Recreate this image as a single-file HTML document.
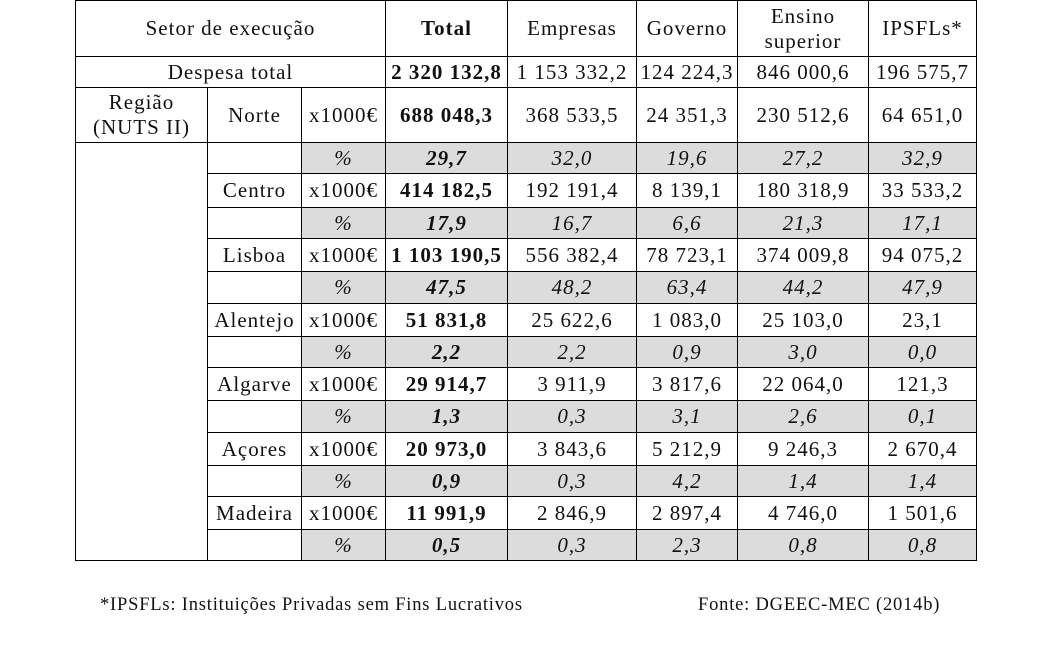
<!DOCTYPE html>
<html><head><meta charset="utf-8"><style>
body{margin:0;width:1052px;height:670px;background:#fff;position:relative;overflow:hidden;font-family:"Liberation Serif",serif;color:#111}
table{position:absolute;left:75px;top:0;border-collapse:collapse;table-layout:fixed;font-size:21px;letter-spacing:1px}
td{border:1px solid #000;text-align:center;padding:0;line-height:25px;white-space:nowrap}
.g{background:#dcdcdc;font-style:italic}
.b{font-weight:bold}
.f{position:absolute;top:595px;font-size:18.5px;letter-spacing:0.8px}
</style></head><body>
<table>
<colgroup><col style="width:132px"><col style="width:94px"><col style="width:84px"><col style="width:122px"><col style="width:129px"><col style="width:101px"><col style="width:131px"><col style="width:108px"></colgroup>
<tr style="height:56px"><td colspan="3">Setor de execução</td><td class="b">Total</td><td>Empresas</td><td>Governo</td><td>Ensino<br>superior</td><td>IPSFLs*</td></tr>
<tr style="height:31px"><td colspan="3">Despesa total</td><td class="b">2 320 132,8</td><td>1 153 332,2</td><td>124 224,3</td><td>846 000,6</td><td>196 575,7</td></tr>
<tr style="height:55px"><td>Região<br>(NUTS II)</td><td>Norte</td><td>x1000€</td><td class="b">688 048,3</td><td>368 533,5</td><td>24 351,3</td><td>230 512,6</td><td>64 651,0</td></tr>
<tr style="height:31px"><td rowspan="13"></td><td></td><td class="g">%</td><td class="g b">29,7</td><td class="g">32,0</td><td class="g">19,6</td><td class="g">27,2</td><td class="g">32,9</td></tr>
<tr style="height:34px"><td>Centro</td><td>x1000€</td><td class="b">414 182,5</td><td>192 191,4</td><td>8 139,1</td><td>180 318,9</td><td>33 533,2</td></tr>
<tr style="height:31px"><td></td><td class="g">%</td><td class="g b">17,9</td><td class="g">16,7</td><td class="g">6,6</td><td class="g">21,3</td><td class="g">17,1</td></tr>
<tr style="height:33px"><td>Lisboa</td><td>x1000€</td><td class="b">1 103 190,5</td><td>556 382,4</td><td>78 723,1</td><td>374 009,8</td><td>94 075,2</td></tr>
<tr style="height:32px"><td></td><td class="g">%</td><td class="g b">47,5</td><td class="g">48,2</td><td class="g">63,4</td><td class="g">44,2</td><td class="g">47,9</td></tr>
<tr style="height:33px"><td>Alentejo</td><td>x1000€</td><td class="b">51 831,8</td><td>25 622,6</td><td>1 083,0</td><td>25 103,0</td><td>23,1</td></tr>
<tr style="height:31px"><td></td><td class="g">%</td><td class="g b">2,2</td><td class="g">2,2</td><td class="g">0,9</td><td class="g">3,0</td><td class="g">0,0</td></tr>
<tr style="height:33px"><td>Algarve</td><td>x1000€</td><td class="b">29 914,7</td><td>3 911,9</td><td>3 817,6</td><td>22 064,0</td><td>121,3</td></tr>
<tr style="height:32px"><td></td><td class="g">%</td><td class="g b">1,3</td><td class="g">0,3</td><td class="g">3,1</td><td class="g">2,6</td><td class="g">0,1</td></tr>
<tr style="height:33px"><td>Açores</td><td>x1000€</td><td class="b">20 973,0</td><td>3 843,6</td><td>5 212,9</td><td>9 246,3</td><td>2 670,4</td></tr>
<tr style="height:31px"><td></td><td class="g">%</td><td class="g b">0,9</td><td class="g">0,3</td><td class="g">4,2</td><td class="g">1,4</td><td class="g">1,4</td></tr>
<tr style="height:33px"><td>Madeira</td><td>x1000€</td><td class="b">11 991,9</td><td>2 846,9</td><td>2 897,4</td><td>4 746,0</td><td>1 501,6</td></tr>
<tr style="height:31px"><td></td><td class="g">%</td><td class="g b">0,5</td><td class="g">0,3</td><td class="g">2,3</td><td class="g">0,8</td><td class="g">0,8</td></tr>
</table>
<div class="f" style="left:100px">*IPSFLs: Instituições Privadas sem Fins Lucrativos</div>
<div class="f" style="left:698px">Fonte: DGEEC-MEC (2014b)</div>
</body></html>
